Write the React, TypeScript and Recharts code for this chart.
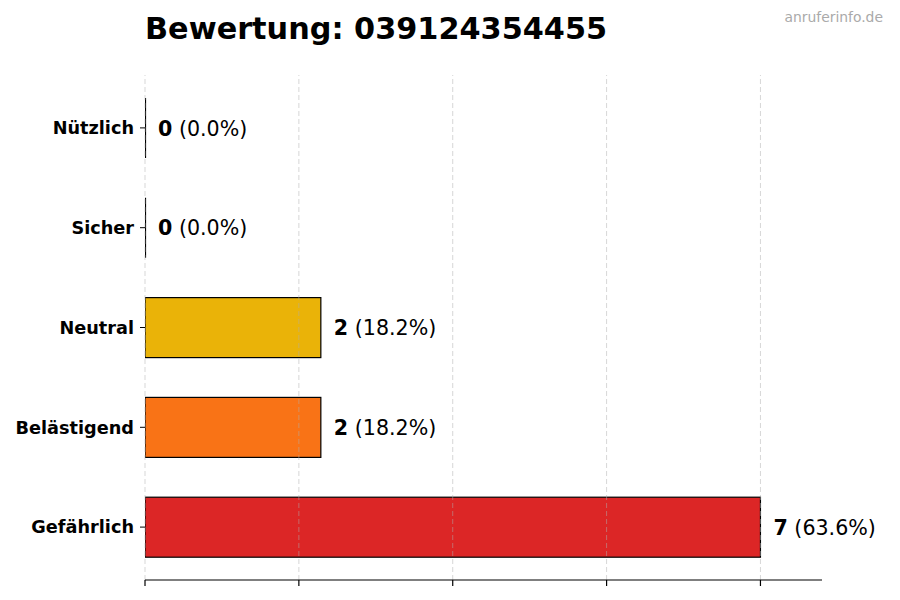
import React from 'react';
import { BarChart, Bar, XAxis, YAxis, Cell, LabelList, ReferenceLine } from 'recharts';

const categories = ['Nützlich', 'Sicher', 'Neutral', 'Belästigend', 'Gefährlich'];
const counts = [0, 0, 2, 2, 7];
const percents = ['0.0%', '0.0%', '18.2%', '18.2%', '63.6%'];
const colors = ['#16a34a', '#3b82f6', '#EAB308', '#F97316', '#DC2626'];
const xTicks = [0, 1.75, 3.5, 5.25, 7];
const xMax = 7.7;
const title = 'Bewertung: 039124354455';
const watermark = 'anruferinfo.de';

const data = categories.map((name, i) => ({ name, value: counts[i], pct: percents[i] }));

const FONT = '"DejaVu Sans", sans-serif';

const BarShape = (props: any) => {
  const { x, y, width, height, fill } = props;
  if (!width || width <= 0.01) {
    return <line x1={x + 0.5} x2={x + 0.5} y1={y} y2={y + height} stroke="#000" strokeWidth={1.2} />;
  }
  return <rect x={x} y={y} width={width} height={height} fill={fill} stroke="#000" strokeWidth={1.2} />;
};

const ValueLabel = (props: any) => {
  const { x, y, width, height, index } = props;
  const d = data[index];
  return (
    <text
      x={x + width + 13}
      y={y + height / 2 + 0.5}
      dominantBaseline="central"
      fontFamily={FONT}
      fontSize={20.6}
      fill="#000"
    >
      <tspan fontWeight="bold">{d.value}</tspan>
      <tspan> ({d.pct})</tspan>
    </text>
  );
};

const EmptyTick = () => <g />;

export default function App() {
  return (
    <div style={{ position: 'absolute', left: 0, top: 0, width: 900, height: 600, background: '#fff' }}>
      <BarChart
        width={900}
        height={600}
        data={data}
        layout="vertical"
        margin={{ top: 75, right: 78, bottom: 0, left: 0 }}
      >
        <XAxis
          type="number"
          domain={[0, xMax]}
          ticks={xTicks}
          height={20}
          tick={EmptyTick}
          tickSize={6}
          axisLine={{ stroke: '#000', strokeWidth: 1.2 }}
          tickLine={{ stroke: '#000', strokeWidth: 1.2 }}
          allowDataOverflow
        />
        <YAxis
          type="category"
          dataKey="name"
          width={145}
          axisLine={false}
          tickSize={5}
          tickMargin={6}
          padding={{ top: 3, bottom: 3 }}
          tickLine={{ stroke: '#000', strokeWidth: 1 }}
          tick={{ fontFamily: FONT, fontSize: 17.7, fontWeight: 'bold', fill: '#000' }}
        />
        <Bar dataKey="value" barSize={60} isAnimationActive={false} shape={BarShape}>
          {data.map((d, i) => (
            <Cell key={d.name} fill={colors[i]} />
          ))}
          <LabelList dataKey="value" content={ValueLabel} />
        </Bar>
        {xTicks.map((t) => (
          <ReferenceLine
            key={t}
            x={t}
            stroke="#b0b0b0"
            strokeOpacity={0.5}
            strokeWidth={1}
            strokeDasharray="5 3"
          />
        ))}
      </BarChart>
      <svg
        width={900}
        height={600}
        style={{ position: 'absolute', left: 0, top: 0, pointerEvents: 'none' }}
      >
        <text x={145} y={39} fontFamily={FONT} fontSize={30.3} fontWeight="bold" fill="#000">
          {title}
        </text>
        <text x={883} y={22} textAnchor="end" fontFamily={FONT} fontSize={13.9} fill="#aaaaaa">
          {watermark}
        </text>
      </svg>
    </div>
  );
}
